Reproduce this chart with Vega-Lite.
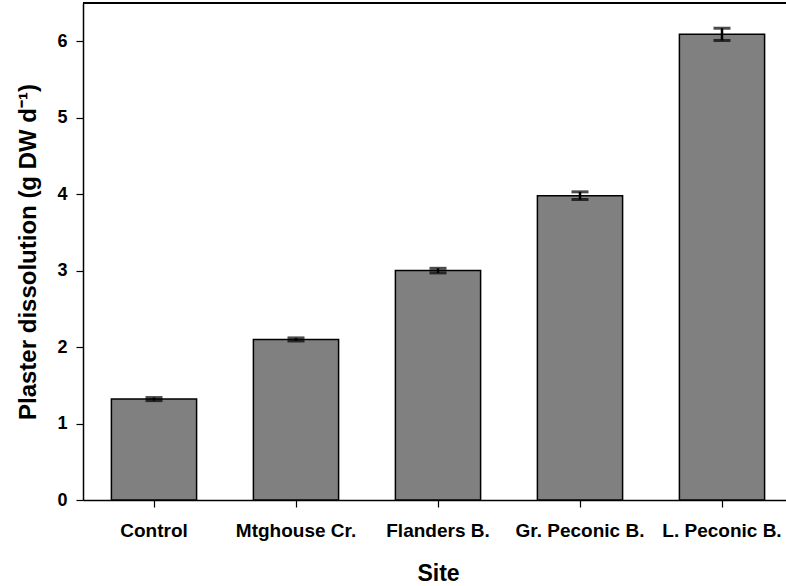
{
  "$schema": "https://vega.github.io/schema/vega-lite/v6.json",
  "width": 703,
  "height": 497,
  "autosize": {"type": "none"},
  "padding": {"left": 83, "top": 3, "right": 0, "bottom": 86},
  "background": "white",
  "config": {
    "view": {"stroke": null},
    "font": "Liberation Sans"
  },
  "data": {
    "values": [
      {"site": "Control", "mean": 1.32, "lo": 1.30, "hi": 1.34},
      {"site": "Mtghouse Cr.", "mean": 2.10, "lo": 2.08, "hi": 2.12},
      {"site": "Flanders B.", "mean": 3.00, "lo": 2.97, "hi": 3.03},
      {"site": "Gr. Peconic B.", "mean": 3.98, "lo": 3.93, "hi": 4.03},
      {"site": "L. Peconic B.", "mean": 6.09, "lo": 6.01, "hi": 6.17}
    ]
  },
  "layer": [
    {
      "mark": {"type": "bar", "color": "#808080", "stroke": "black", "strokeWidth": 1.5},
      "encoding": {
        "x": {
          "field": "site",
          "type": "nominal",
          "sort": null,
          "scale": {"range": [0, 710], "paddingInner": 0.4, "paddingOuter": 0.2},
          "axis": {
            "labelAngle": 0,
            "labelPadding": 14,
            "labelFont": "Liberation Sans",
            "labelFontWeight": "bold",
            "labelFontSize": 19,
            "labelColor": "black",
            "domainColor": "black",
            "domainWidth": 1.5,
            "tickColor": "black",
            "tickWidth": 1.2,
            "tickSize": 7,
            "title": "Site",
            "titleFont": "Liberation Sans",
            "titleFontWeight": "bold",
            "titleFontSize": 23,
            "titleColor": "black",
            "titlePadding": 22
          }
        },
        "y": {
          "field": "mean",
          "type": "quantitative",
          "scale": {"domain": [0, 6.5], "nice": false},
          "axis": {
            "values": [0, 1, 2, 3, 4, 5, 6],
            "format": "d",
            "grid": false,
            "labelPadding": 9,
            "labelFont": "Liberation Sans",
            "labelFontWeight": "bold",
            "labelFontSize": 18,
            "labelColor": "black",
            "domainColor": "black",
            "domainWidth": 1.5,
            "tickColor": "black",
            "tickWidth": 1.2,
            "tickSize": 7,
            "title": "Plaster dissolution (g DW d⁻¹)",
            "titleFont": "Liberation Sans",
            "titleFontWeight": "bold",
            "titleFontSize": 24,
            "titleColor": "black",
            "titlePadding": 16
          }
        }
      }
    },
    {
      "mark": {"type": "rule", "color": "black", "strokeWidth": 2.5},
      "encoding": {
        "x": {"field": "site", "type": "nominal", "sort": null},
        "y": {"field": "lo", "type": "quantitative"},
        "y2": {"field": "hi"}
      }
    },
    {
      "mark": {"type": "tick", "color": "black", "thickness": 3, "size": 17, "orient": "horizontal"},
      "encoding": {
        "x": {"field": "site", "type": "nominal", "sort": null},
        "y": {"field": "lo", "type": "quantitative"}
      }
    },
    {
      "mark": {"type": "tick", "color": "black", "thickness": 3, "size": 17, "orient": "horizontal"},
      "encoding": {
        "x": {"field": "site", "type": "nominal", "sort": null},
        "y": {"field": "hi", "type": "quantitative"}
      }
    },
    {
      "mark": {"type": "rule", "color": "black", "strokeWidth": 1.5},
      "encoding": {"y": {"datum": 6.5}}
    }
  ]
}
